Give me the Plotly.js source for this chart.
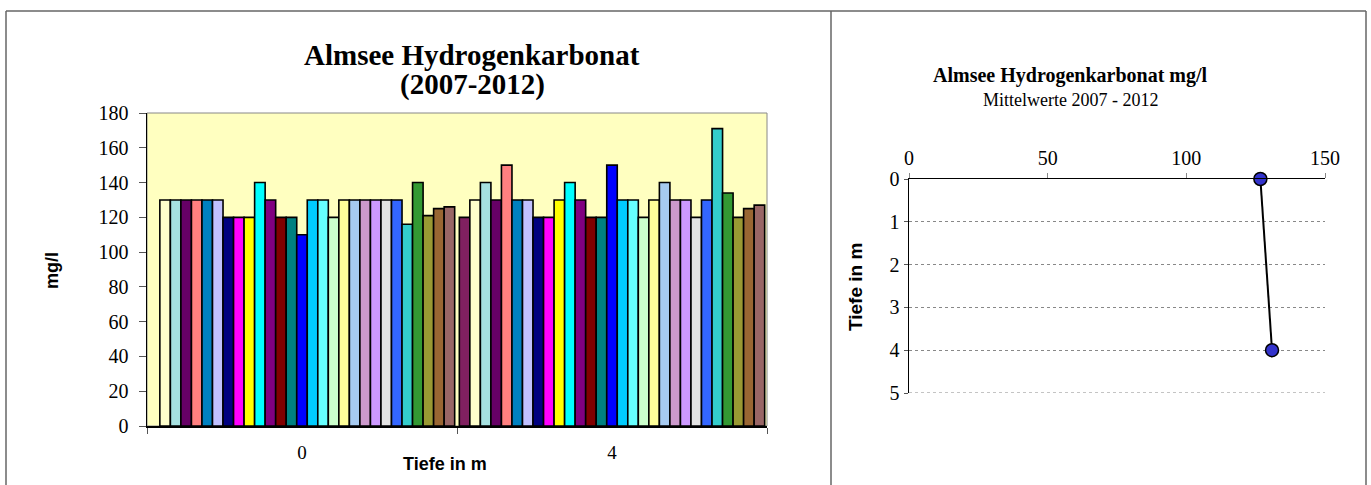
<!DOCTYPE html>
<html>
<head>
<meta charset="utf-8">
<script src="https://cdn.plot.ly/plotly-3.0.1.min.js"></script>
<style>html,body{margin:0;padding:0;background:#fff;}#chart{width:1371px;height:485px;}</style>
</head>
<body>
<div id="chart"></div>
<script>
// ---- data ----
const depthCategories = ['0', '4'];
const seriesColors = [
  '#802060', '#FFFFCC', '#A6E0E0', '#660066', '#FF8080', '#0080C0', '#C0C0FF',
  '#000080', '#FF00FF', '#FFFF00', '#00FFFF', '#800080', '#800000', '#008080',
  '#0000FF', '#00CCFF', '#66FFFF', '#CCFFCC', '#FFFF99', '#A6CAF0', '#CC99CC',
  '#CC99FF', '#E3E3E3', '#3366FF', '#33CCCC', '#339933', '#999933', '#996633', '#996666'
];
const valuesDepth0 = [null, 130, 130, 130, 130, 130, 130, 120, 120, 120, 140, 130, 120, 120,
  110, 130, 130, 120, 130, 130, 130, 130, 130, 130, 116, 140, 121, 125, 126];
const valuesDepth4 = [120, 130, 140, 130, 150, 130, 130, 120, 120, 130, 140, 130, 120, 120,
  150, 130, 130, 120, 130, 140, 130, 130, 120, 130, 171, 134, 120, 125, 127];
const meanDepths = [0, 4];
const meanValues = [126.7, 130.9];
const yTicksLeft = [0, 20, 40, 60, 80, 100, 120, 140, 160, 180];

// ---- helpers (pixel -> paper) ----
const W = 1371, H = 485;
const px = x => x / W;
const py = y => 1 - y / H;
const SERIF = 'Liberation Serif, Times New Roman, serif';
const SANS = 'Liberation Sans, Arial, sans-serif';

const traces = seriesColors.map((c, i) => ({
  type: 'bar',
  x: depthCategories,
  y: [valuesDepth0[i], valuesDepth4[i]],
  xaxis: 'x', yaxis: 'y',
  marker: { color: c, line: { color: '#000', width: 1.6 } },
  hoverinfo: 'skip'
}));

traces.push({
  type: 'scatter',
  mode: 'lines+markers',
  x: meanValues,
  y: meanDepths,
  xaxis: 'x2', yaxis: 'y2',
  line: { color: '#000', width: 2 },
  marker: { size: 13, color: '#3333CC', line: { color: '#000', width: 1.5 } },
  cliponaxis: false,
  hoverinfo: 'skip'
});

const borderColor = '#666';
const layout = {
  width: W, height: H,
  margin: { l: 0, r: 0, t: 0, b: 0 },
  paper_bgcolor: '#fff',
  plot_bgcolor: 'rgba(0,0,0,0)',
  showlegend: false,
  barmode: 'group',
  bargap: 0.015,
  bargroupgap: 0,
  xaxis: {
    domain: [px(147), px(767)], anchor: 'y', type: 'category',
    tickson: 'boundaries', ticks: 'outside', ticklen: 6, tickcolor: '#555', tickwidth: 1,
    showline: true, linecolor: '#000', linewidth: 1.5, showgrid: false, zeroline: false,
    tickfont: { family: SERIF, size: 19, color: '#000' }, ticklabelstandoff: 9,
    fixedrange: true
  },
  yaxis: {
    domain: [py(426), py(113)], anchor: 'x', range: [0, 180],
    tickvals: yTicksLeft, ticks: 'outside', ticklen: 7, tickcolor: '#555',
    showline: true, linecolor: '#000', linewidth: 1.5, showgrid: false, zeroline: false,
    tickfont: { family: SERIF, size: 20, color: '#000' }, ticklabelstandoff: 6, fixedrange: true
  },
  xaxis2: {
    domain: [px(909), px(1325)], anchor: 'y2', side: 'top', range: [0, 150], dtick: 50,
    ticks: 'outside', ticklen: 5, tickcolor: '#888',
    showline: true, linecolor: '#000', linewidth: 1.5, showgrid: false, zeroline: false,
    tickfont: { family: SERIF, size: 20, color: '#000' }, fixedrange: true
  },
  yaxis2: {
    domain: [py(393), py(179)], anchor: 'x2', range: [5, 0], dtick: 1,
    ticks: 'outside', ticklen: 4, tickcolor: '#555',
    showline: true, linecolor: '#000', linewidth: 1.5,
    showgrid: true, gridcolor: '#888', griddash: 'dot', gridwidth: 1, zeroline: false,
    tickfont: { family: SERIF, size: 20, color: '#000' }, ticklabelstandoff: 0, fixedrange: true
  },
  shapes: [
    { type: 'rect', xref: 'x domain', yref: 'y domain', x0: 0, x1: 1, y0: 0, y1: 1,
      fillcolor: '#FFFFC0', line: { color: '#888', width: 1 }, layer: 'below' },
    { type: 'line', xref: 'x2 domain', yref: 'y2', x0: 0, x1: 1, y0: 5, y1: 5,
      line: { color: '#888', width: 1, dash: 'dot' }, layer: 'below' },
    { type: 'line', xref: 'paper', yref: 'paper', x0: px(6), x1: px(1366), y0: py(11), y1: py(11), line: { color: borderColor, width: 1.5 } },
    { type: 'line', xref: 'paper', yref: 'paper', x0: px(6), x1: px(6), y0: py(11), y1: 0, line: { color: borderColor, width: 1.5 } },
    { type: 'line', xref: 'paper', yref: 'paper', x0: px(831), x1: px(831), y0: py(11), y1: 0, line: { color: borderColor, width: 1.5 } },
    { type: 'line', xref: 'paper', yref: 'paper', x0: px(1366), x1: px(1366), y0: py(11), y1: 0, line: { color: borderColor, width: 1.5 } }
  ],
  annotations: [
    { text: '<b>Almsee Hydrogenkarbonat</b>', xref: 'paper', yref: 'paper', x: px(472), y: py(55),
      showarrow: false, xanchor: 'center', yanchor: 'middle', font: { family: SERIF, size: 29, color: '#000' } },
    { text: '<b>(2007-2012)</b>', xref: 'paper', yref: 'paper', x: px(472), y: py(84),
      showarrow: false, xanchor: 'center', yanchor: 'middle', font: { family: SERIF, size: 29, color: '#000' } },
    { text: '<b>mg/l</b>', xref: 'paper', yref: 'paper', x: px(52), y: py(271), textangle: -90,
      showarrow: false, xanchor: 'center', yanchor: 'middle', font: { family: SANS, size: 18, color: '#000' } },
    { text: '<b>Tiefe in m</b>', xref: 'paper', yref: 'paper', x: px(445), y: py(464),
      showarrow: false, xanchor: 'center', yanchor: 'middle', font: { family: SANS, size: 18, color: '#000' } },
    { text: '<b>Almsee Hydrogenkarbonat mg/l</b>', xref: 'paper', yref: 'paper', x: px(1070), y: py(75),
      showarrow: false, xanchor: 'center', yanchor: 'middle', font: { family: SERIF, size: 20, color: '#000' } },
    { text: 'Mittelwerte 2007 - 2012', xref: 'paper', yref: 'paper', x: px(1070), y: py(100),
      showarrow: false, xanchor: 'center', yanchor: 'middle', font: { family: SERIF, size: 18, color: '#000' } },
    { text: '<b>Tiefe in m</b>', xref: 'paper', yref: 'paper', x: px(855), y: py(287), textangle: -90,
      showarrow: false, xanchor: 'center', yanchor: 'middle', font: { family: SANS, size: 19, color: '#000' } }
  ]
};

Plotly.newPlot('chart', traces, layout, { staticPlot: true, displayModeBar: false });
</script>
</body>
</html>
